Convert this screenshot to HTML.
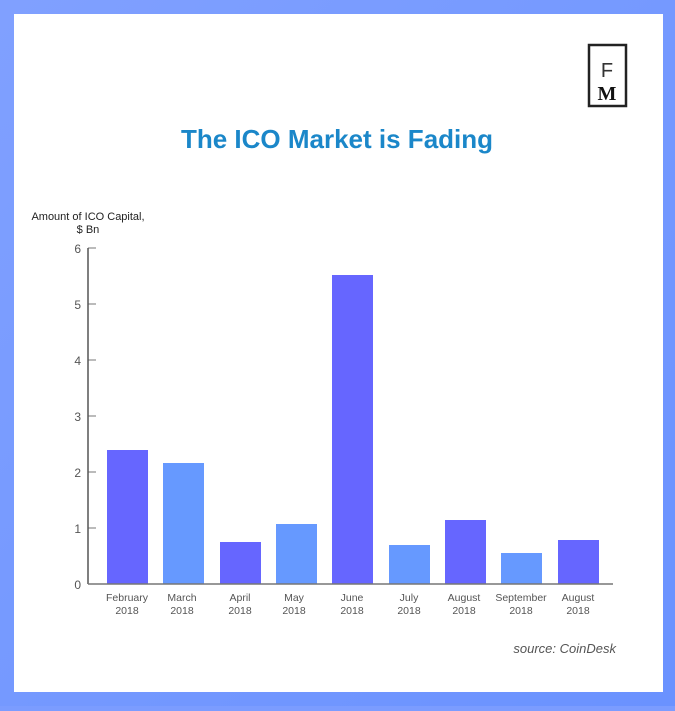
<!DOCTYPE html>
<html><head><style>
body{margin:0;width:675px;height:706px;background:#7b9cff;font-family:"Liberation Sans",sans-serif;overflow:hidden}
</style></head><body>
<svg width="675" height="706" xmlns="http://www.w3.org/2000/svg">
<defs><linearGradient id="g" x1="0" y1="0" x2="1" y2="1"><stop offset="0" stop-color="#80a0ff"/><stop offset="1" stop-color="#6a92ff"/></linearGradient></defs>
<rect width="675" height="706" fill="url(#g)"/>
<rect x="14" y="14" width="649" height="678" fill="#fff"/>
<rect x="589" y="45" width="37" height="61" fill="none" stroke="#222" stroke-width="2.5"/>
<text x="607" y="77" font-size="20" text-anchor="middle" fill="#333" font-weight="300">F</text>
<text x="607" y="100" font-size="20" text-anchor="middle" fill="#111" font-weight="bold" font-family="Liberation Serif,serif">M</text>
<text x="337" y="148" font-size="26" font-weight="bold" text-anchor="middle" fill="#1b87c9">The ICO Market is Fading</text>
<text x="88" y="220" font-size="11" text-anchor="middle" fill="#222">Amount of ICO Capital,</text>
<text x="88" y="233" font-size="11" text-anchor="middle" fill="#222">$ Bn</text>
<g font-size="12" fill="#555" text-anchor="end">
<text x="81" y="253">6</text><text x="81" y="309">5</text><text x="81" y="365">4</text><text x="81" y="421">3</text><text x="81" y="477">2</text><text x="81" y="533">1</text><text x="81" y="589">0</text>
</g>
<g stroke="#777" stroke-width="1">
<line x1="88" y1="248" x2="96" y2="248"/><line x1="88" y1="304" x2="96" y2="304"/><line x1="88" y1="360" x2="96" y2="360"/><line x1="88" y1="416" x2="96" y2="416"/><line x1="88" y1="472" x2="96" y2="472"/><line x1="88" y1="528" x2="96" y2="528"/>
</g>
<g>
<rect x="107" y="450" width="41" height="134" fill="#6666ff"/>
<rect x="163" y="463" width="41" height="121" fill="#6699ff"/>
<rect x="220" y="542" width="41" height="42" fill="#6666ff"/>
<rect x="276" y="524" width="41" height="60" fill="#6699ff"/>
<rect x="332" y="275" width="41" height="309" fill="#6666ff"/>
<rect x="389" y="545" width="41" height="39" fill="#6699ff"/>
<rect x="445" y="520" width="41" height="64" fill="#6666ff"/>
<rect x="501" y="553" width="41" height="31" fill="#6699ff"/>
<rect x="558" y="540" width="41" height="44" fill="#6666ff"/>
</g>
<line x1="88" y1="248" x2="88" y2="584" stroke="#555" stroke-width="1.5"/>
<line x1="88" y1="584" x2="613" y2="584" stroke="#777" stroke-width="1.5"/>
<g font-size="10.5" fill="#555" text-anchor="middle">
<text x="127" y="601">February</text><text x="127" y="614">2018</text>
<text x="182" y="601">March</text><text x="182" y="614">2018</text>
<text x="240" y="601">April</text><text x="240" y="614">2018</text>
<text x="294" y="601">May</text><text x="294" y="614">2018</text>
<text x="352" y="601">June</text><text x="352" y="614">2018</text>
<text x="409" y="601">July</text><text x="409" y="614">2018</text>
<text x="464" y="601">August</text><text x="464" y="614">2018</text>
<text x="521" y="601">September</text><text x="521" y="614">2018</text>
<text x="578" y="601">August</text><text x="578" y="614">2018</text>
</g>
<text x="616" y="653" font-size="13" font-style="italic" text-anchor="end" fill="#555">source: CoinDesk</text>
</svg>
</body></html>
